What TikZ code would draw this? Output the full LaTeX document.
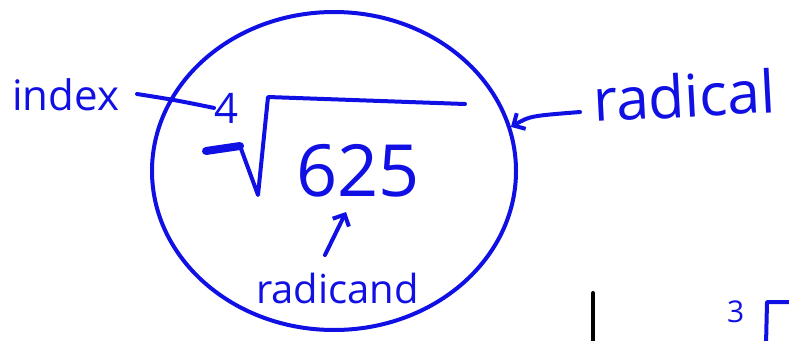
\documentclass[tikz,border=0pt]{standalone}
\usepackage{fontspec}
\setmainfont{Open Sans}
\usetikzlibrary{arrows.meta,shapes.geometric}
\definecolor{ink}{RGB}{16,16,228}
\begin{document}
\begin{tikzpicture}[x=1pt,y=-1pt,
  pen/.style={draw=ink,line width=4pt,line cap=round,line join=round},
  lbl/.style={text=ink,inner sep=0pt,anchor=base west},
  barb/.style={-{Straight Barb[length=9pt,width=18pt,line width=4pt]}}]
\useasboundingbox (0,0) rectangle (789,340);
% circle
\node[pen,ellipse,minimum width=364pt,minimum height=318pt,inner sep=0pt] (circ) at (334,171) {};
% labels
\node[lbl,font=\fontsize{42}{42}\selectfont] (index) at (12,110) {index};
\node[lbl,font=\fontsize{42}{42}\selectfont] (four) at (214,123) {4};
\node[lbl,font=\fontsize{72}{72}\selectfont] (n625) at (296,196) {625};
\node[lbl,font=\fontsize{40}{40}\selectfont] (radicand) at (256,303) {radicand};
\node[lbl,font=\fontsize{59}{59}\selectfont,rotate=3] (radical) at (594,122) {radical};
\node[lbl,font=\fontsize{30}{30}\selectfont] (three) at (727,322) {3};
% radical sign
\coordinate (hk1) at (206,151);
\coordinate (hk2) at (240,146);
\coordinate (vb) at (258,195);
\coordinate (vt) at (268,97);
\coordinate (ve) at (465,104);
\draw[pen,line width=8pt] (hk1) -- (hk2);
\draw[pen] (hk2) -- (vb) -- (vt) -- (ve);
% connectors
\coordinate (ia) at (137,94);
\draw[pen] (ia) .. controls (175,100) .. (four.west);
\coordinate (ra) at (580,112);
\draw[pen,barb] (ra) .. controls (530,116) .. (circ.14);
\coordinate (rb) at (325,255);
\coordinate (rt) at (346,212);
\draw[pen,barb] (rb) -- (rt);
% bottom right partial
\coordinate (bl1) at (593,293);
\coordinate (bl2) at (593,345);
\draw[line width=4pt,line cap=round] (bl1) -- (bl2);
\coordinate (r3a) at (766,345);
\coordinate (r3b) at (767,302);
\coordinate (r3c) at (795,302);
\draw[pen] (r3a) -- (r3b) -- (r3c);
\end{tikzpicture}
\end{document}
